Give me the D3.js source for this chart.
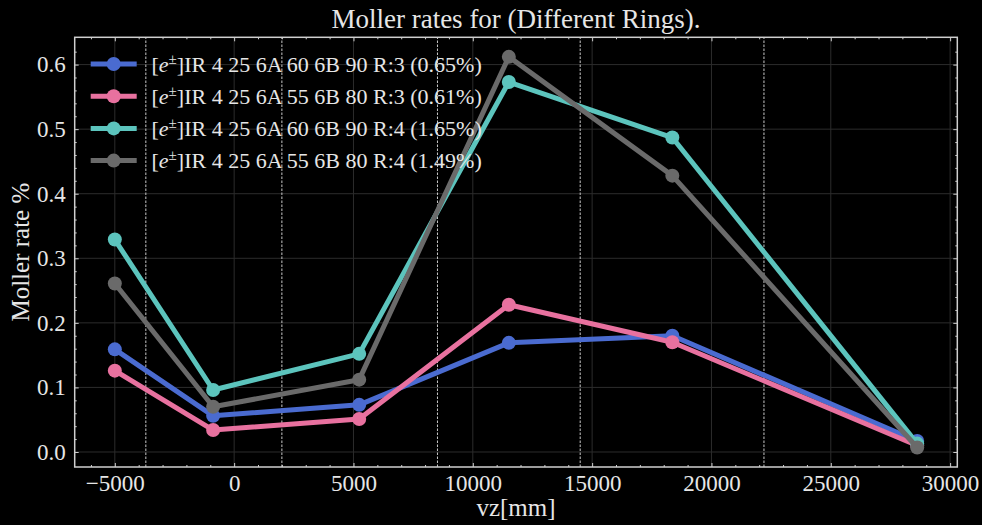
<!DOCTYPE html>
<html><head><meta charset="utf-8">
<script src="https://cdn.jsdelivr.net/npm/d3@7"></script>
<style>
html,body{margin:0;padding:0;background:#000;}
svg{display:block;}
text{font-family:"Liberation Serif","Times New Roman",serif;fill:#e6e6e6;}
</style></head>
<body><svg id="chart" width="982" height="525"></svg>
<script>
const vz = [-5000, -880, 5240, 11510, 18360, 28620];
const seriesNames = ["IR 4 25 6A 60 6B 90 R:3 (0.65%)","IR 4 25 6A 55 6B 80 R:3 (0.61%)","IR 4 25 6A 60 6B 90 R:4 (1.65%)","IR 4 25 6A 55 6B 80 R:4 (1.49%)"];
const ring3_60_90 = [0.159, 0.056, 0.073, 0.169, 0.180, 0.017];
const ring3_55_80 = [0.126, 0.034, 0.051, 0.228, 0.170, 0.010];
const ring4_60_90 = [0.329, 0.096, 0.152, 0.573, 0.487, 0.013];
const ring4_55_80 = [0.261, 0.070, 0.112, 0.612, 0.428, 0.007];
const seriesColors = ["#4a6bd0", "#e8719f", "#5cc4bd", "#6a6a6a"];
const boundaries = [-3700, 2000, 8520, 14500, 22200];
const xTicks = [-5000, 0, 5000, 10000, 15000, 20000, 25000, 30000];
const yTicks = [0.0, 0.1, 0.2, 0.3, 0.4, 0.5, 0.6];
const titleText = "Moller rates for (Different Rings).";
const xLabel = "vz[mm]";
const yLabel = "Moller rate %";

const series = [ring3_60_90, ring3_55_80, ring4_60_90, ring4_55_80].map((vals, i) => ({
  name: seriesNames[i], color: seriesColors[i], points: vals.map((v, j) => ({x: vz[j], y: v}))
}));

const W = 982, H = 525;
const m = {left: 74.7, right: W - 957.3, top: 37.3, bottom: H - 467};
const svg = d3.select("#chart");
svg.append("rect").attr("width", W).attr("height", H).attr("fill", "#000");

function padded(ext){ const r = ext[1]-ext[0]; return [ext[0]-0.05*r, ext[1]+0.05*r]; }
const allY = series.flatMap(s => s.points.map(p => p.y));
const x = d3.scaleLinear().domain(padded(d3.extent(vz))).range([m.left, W - m.right]);
const y = d3.scaleLinear().domain(padded(d3.extent(allY))).range([H - m.bottom, m.top]);

const x0 = m.left, x1 = W - m.right, y0 = H - m.bottom, y1 = m.top;

// grid
const g = svg.append("g");
g.selectAll(".gx").data(xTicks.filter(t => x(t) > x0 && x(t) < x1)).join("line")
  .attr("x1", d => x(d)).attr("x2", d => x(d)).attr("y1", y0).attr("y2", y1)
  .attr("stroke", "#2c2c2c").attr("stroke-width", 1);
g.selectAll(".gy").data(yTicks).join("line")
  .attr("y1", d => y(d)).attr("y2", d => y(d)).attr("x1", x0).attr("x2", x1)
  .attr("stroke", "#2c2c2c").attr("stroke-width", 1);

// dashed boundaries
g.selectAll(".bd").data(boundaries).join("line")
  .attr("x1", d => x(d)).attr("x2", d => x(d)).attr("y1", y0).attr("y2", y1)
  .attr("stroke", "#c8c8c8").attr("stroke-width", 1).attr("stroke-dasharray", "2.5,1.5");

// series
const line = d3.line().x(d => x(d.x)).y(d => y(d.y));
series.forEach(s => {
  svg.append("path").datum(s.points).attr("d", line).attr("fill", "none")
    .attr("stroke", s.color).attr("stroke-width", 5).attr("stroke-linejoin", "round");
  svg.selectAll(null).data(s.points).join("circle")
    .attr("cx", d => x(d.x)).attr("cy", d => y(d.y)).attr("r", 7).attr("fill", s.color);
});

// frame
svg.append("rect").attr("x", x0).attr("y", y1).attr("width", x1 - x0).attr("height", y0 - y1)
  .attr("fill", "none").attr("stroke", "#cfcfcf").attr("stroke-width", 1.5);

// axes (ticks inward)
const fmtX = d3.format(",d");
const xMinor = d3.range(-6000, 31000, 1000).filter(t => x(t) >= x0 && x(t) <= x1 && t % 5000 !== 0);
const yMinor = d3.range(0, 0.64, 0.02).filter(t => Math.abs(Math.round(t*10) - t*10) > 1e-6 && y(t) >= y1);
const axB = d3.axisBottom(x).tickValues(xTicks).tickFormat(d => d3.format("d")(d).replace("-", "\u2212")).tickSize(-4).tickPadding(8);
const axT = d3.axisTop(x).tickValues(xTicks).tickFormat("").tickSize(-4);
const axL = d3.axisLeft(y).tickValues(yTicks).tickFormat(d3.format(".1f")).tickSize(-4).tickPadding(9);
const axR = d3.axisRight(y).tickValues(yTicks).tickFormat("").tickSize(-4);
const mB = d3.axisBottom(x).tickValues(xMinor).tickFormat("").tickSize(-2);
const mT = d3.axisTop(x).tickValues(xMinor).tickFormat("").tickSize(-2);
const mL = d3.axisLeft(y).tickValues(yMinor).tickFormat("").tickSize(-2);
const mR = d3.axisRight(y).tickValues(yMinor).tickFormat("").tickSize(-2);
function put(ax, tr){
  const a = svg.append("g").attr("transform", tr).call(ax);
  a.select(".domain").remove();
  a.selectAll(".tick line").attr("stroke", "#cfcfcf").attr("stroke-width", 1);
  a.selectAll("text").attr("font-family", "Liberation Serif, serif").attr("font-size", 23).attr("fill", "#e0e0e0");
  return a;
}
const bAx = put(axB, `translate(0,${y0})`);
bAx.selectAll("text").attr("dy", "0.71em");
put(axT, `translate(0,${y1})`);
put(axL, `translate(${x0},0)`);
put(axR, `translate(${x1},0)`);
put(mB, `translate(0,${y0})`); put(mT, `translate(0,${y1})`);
put(mL, `translate(${x0},0)`); put(mR, `translate(${x1},0)`);

// titles
svg.append("text").attr("x", (x0 + x1) / 2).attr("y", 28).attr("text-anchor", "middle")
  .attr("font-size", 27).text(titleText);
svg.append("text").attr("x", (x0 + x1) / 2).attr("y", 516).attr("text-anchor", "middle")
  .attr("font-size", 25).text(xLabel);
svg.append("text").attr("transform", `translate(29,${(y0 + y1) / 2}) rotate(-90)`).attr("text-anchor", "middle")
  .attr("font-size", 25).text(yLabel);

// legend
const lg = svg.append("g");
series.forEach((s, i) => {
  const cy = 64 + i * 32.2;
  lg.append("line").attr("x1", 90.7).attr("x2", 136.7).attr("y1", cy).attr("y2", cy)
    .attr("stroke", s.color).attr("stroke-width", 5);
  lg.append("circle").attr("cx", 113.7).attr("cy", cy).attr("r", 7).attr("fill", s.color);
  const t = lg.append("text").attr("x", 151.5).attr("y", cy + 7.5).attr("font-size", 22);
  t.append("tspan").text("[");
  t.append("tspan").attr("font-style", "italic").text("e");
  t.append("tspan").attr("font-size", 15).attr("dy", -8).text("\u00b1");
  t.append("tspan").attr("dy", 8).text("]" + s.name);
});
</script></body></html>
